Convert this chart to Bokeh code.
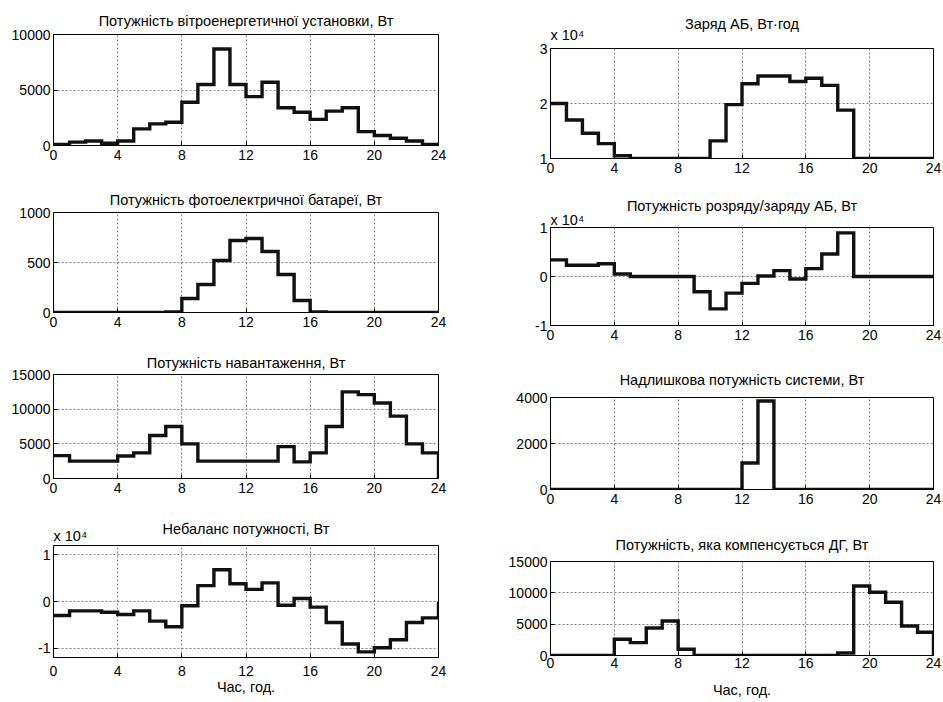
from bokeh.plotting import figure
from bokeh.layouts import row, column
from bokeh.models import Range1d, FixedTicker, Title
from bokeh.embed import file_html
from bokeh.resources import INLINE

# ---------------- data (hour steps, value holds from h to h+1) ----------------
hours = list(range(25))
x_ticks = [0, 4, 8, 12, 16, 20, 24]

wind_power = [100, 300, 400, 200, 400, 1500, 1950, 2100, 3900, 5500, 8700, 5500,
              4400, 5700, 3400, 3000, 2350, 3100, 3400, 1250, 900, 650, 400, 100, 0]
pv_power = [0, 0, 0, 0, 0, 0, 0, 5, 140, 280, 520, 720,
            740, 610, 380, 120, 5, 0, 0, 0, 0, 0, 0, 0, 0]
load_power = [3300, 2500, 2500, 2500, 3250, 3700, 6200, 7500, 5000, 2500, 2500, 2500,
              2500, 2500, 4600, 2400, 3700, 7500, 12500, 12100, 10900, 9000, 5000, 3700, 0]
imbalance = [-3000, -2000, -2000, -2300, -2800, -2000, -4200, -5400, -900, 3400, 6800, 3800,
             2600, 4000, -800, 650, -1200, -4500, -9100, -10800, -9900, -8200, -4500, -3500, 0]
battery_charge = [20000, 17000, 14600, 12700, 10500, 10000, 10000, 10000, 10000, 10000, 13200, 19800,
                  23600, 25000, 25000, 24000, 24600, 23300, 18800, 10000, 10000, 10000, 10000, 10000, 10000]
battery_power = [3400, 2300, 2300, 2600, 500, 0, 0, 0, 0, -3100, -6600, -3400,
                 -1400, 100, 1200, -500, 1600, 4600, 8900, 0, 0, 0, 0, 0, 0]
excess_power = [0, 0, 0, 0, 0, 0, 0, 0, 0, 0, 0, 0,
                1150, 3850, 0, 0, 0, 0, 0, 0, 0, 0, 0, 0, 0]
dg_power = [0, 0, 0, 0, 2600, 2050, 4400, 5500, 1000, 0, 0, 0,
            0, 0, 0, 0, 0, 0, 400, 11100, 10100, 8500, 4700, 3700, 0]

titles = [
    "Потужність вітроенергетичної установки, Вт",
    "Потужність фотоелектричної батареї, Вт",
    "Потужність навантаження, Вт",
    "Небаланс потужності, Вт",
    "Заряд АБ, Вт·год",
    "Потужність розряду/заряду АБ, Вт",
    "Надлишкова потужність системи, Вт",
    "Потужність, яка компенсується ДГ, Вт",
]
x_label = "Час, год."
exp_text = "x 10\u2074"

FONT = "Liberation Sans"
TICK_FS = "14px"
TITLE_FS = "14.5px"


def make(title, ys, yr, yticks, width, height, mb, standoff,
         exp_standoff=None, fallback_standoff=0, xlabel=None, xstand=4, xlab_stand=0):
    left, right, top, bottom = mb
    p = figure(width=width, height=height,
               x_range=Range1d(0, 24), y_range=Range1d(*yr),
               output_backend="svg", toolbar_location=None,
               min_border_left=left, min_border_right=right,
               min_border_top=top, min_border_bottom=bottom,
               background_fill_color="white", border_fill_color="white",
               title=title)
    p.step(hours, ys, mode="after", line_color="#111111", line_width=3.4,
           line_join="miter")
    p.title.align = "center"
    p.title.text_font = FONT
    p.title.text_font_size = TITLE_FS
    p.title.text_font_style = "normal"
    p.title.text_color = "black"
    try:
        p.title.standoff = standoff
    except Exception:
        p.title.standoff = fallback_standoff
    p.outline_line_color = "black"
    p.outline_line_alpha = 1
    p.outline_line_width = 1
    p.xaxis.ticker = FixedTicker(ticks=x_ticks)
    p.yaxis.ticker = FixedTicker(ticks=yticks)
    for ax in (p.xaxis, p.yaxis):
        ax.major_tick_in = 4
        ax.major_tick_out = 0
        ax.minor_tick_line_color = None
        ax.axis_line_color = "black"
        ax.major_tick_line_color = "black"
        ax.major_label_text_font = FONT
        ax.major_label_text_font_size = TICK_FS
        ax.major_label_text_color = "black"
    p.yaxis.major_label_standoff = 3
    p.xaxis.major_label_standoff = xstand
    p.grid.grid_line_color = "#808080"
    p.grid.grid_line_dash = "2 2"
    p.grid.grid_line_width = 1
    if exp_standoff is not None:
        p.yaxis.major_label_overrides = {t: str(int(t / 10000)) for t in yticks}
        p.add_layout(Title(text=exp_text, align="left", standoff=exp_standoff,
                           text_font=FONT, text_font_size=TITLE_FS,
                           text_font_style="normal", text_color="black"), "above")
    if xlabel:
        p.xaxis.axis_label = xlabel
        p.xaxis.axis_label_text_font = FONT
        p.xaxis.axis_label_text_font_size = TITLE_FS
        p.xaxis.axis_label_text_font_style = "normal"
        p.xaxis.axis_label_text_color = "black"
        p.xaxis.axis_label_standoff = xlab_stand
    return p


LW, RW = 470, 473
f1 = make(titles[0], wind_power, (0, 10000), [0, 5000, 10000], LW, 176, (53, 32, 34, 31), 11)
f2 = make(titles[1], pv_power, (0, 1000), [0, 500, 1000], LW, 164, (53, 32, 36, 28), 9)
f3 = make(titles[2], load_power, (0, 15000), [0, 5000, 10000, 15000], LW, 171, (53, 32, 34, 33), 7)
f4 = make(titles[3], imbalance, (-12000, 12000), [-10000, 0, 10000], LW, 189, (53, 32, 34, 43), -25,
          exp_standoff=3, xlabel=x_label, xstand=8, xlab_stand=0)

f5 = make(titles[4], battery_charge, (10000, 30000), [10000, 20000, 30000], RW, 186, (80, 10, 48, 28), -24,
          exp_standoff=11)
f6 = make(titles[5], battery_power, (-10000, 10000), [-10000, 0, 10000], RW, 165, (80, 10, 41, 26), -9,
          exp_standoff=0)
f7 = make(titles[6], excess_power, (0, 4000), [0, 2000, 4000], RW, 169, (80, 10, 46, 31), 19)
f8 = make(titles[7], dg_power, (0, 15000), [0, 5000, 10000, 15000], RW, 180, (80, 10, 41, 44), 17,
          xlabel=x_label, xstand=2, xlab_stand=11)

layout = row(column(f1, f2, f3, f4), column(f5, f6, f7, f8))

open("out.html", "w").write(file_html(layout, INLINE, title="Chart"))
